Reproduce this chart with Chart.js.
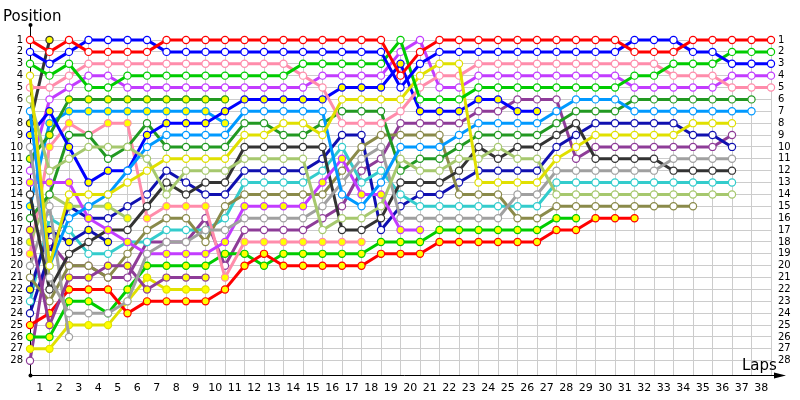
<!DOCTYPE html>
<html>
<head>
<meta charset="utf-8">
<script src="https://cdn.jsdelivr.net/npm/chart.js@4.4.1/dist/chart.umd.min.js"></script>
<style>
  html, body { margin: 0; padding: 0; background: #fff; }
  #wrap { width: 800px; height: 400px; }
</style>
</head>
<body>
<div id="wrap"><canvas id="lapChart" width="800" height="400"></canvas></div>
<script>
// lap numbers shown under the axis
const lapLabels = Array.from({ length: 38 }, (_, i) => String(i + 1));

// position of each car per lap (index = lap, 0 = grid)
const redW      = [1,2,1,2,2,2,2,1,1,1,1,1,1,1,1,1,1,1,1,4,2,1,1,1,1,1,1,1,1,1,1,2,2,2,1,1,1,1,1];
const blueW     = [2,3,2,1,1,1,1,2,2,2,2,2,2,2,2,2,2,2,2,5,3,2,2,2,2,2,2,2,2,2,2,1,1,1,2,2,3,3,3];
const greenW    = [3,4,3,5,5,4,4,4,4,4,4,4,4,4,3,3,3,3,3,1,6,6,6,5,5,5,5,5,5,5,5,4,4,3,3,3,2,2,2];
const yellowW   = [4,20,14,14,14,13,12,11,11,11,11,9,9,8,8,9,6,6,6,6,4,3,3,13,13,13,13,11,10,9,9,9,9,9,8,8,8];
const pinkW     = [5,5,4,3,3,3,3,3,3,3,3,3,3,3,4,5,8,8,8,7,5,4,4,3,3,3,3,3,3,3,3,3,3,4,4,4,5,5,5];
const ltGreenW  = [6,12,11,10,10,10,11,14,12,12,12,11,11,11,11,17,16,16,15,11,12,12,11,11,10,11,11,14,14,14,14,14,14,14,14,14,14];
const ltBlueW   = [7,20,16,15,14,12,10,9,9,9,9,7,7,7,7,7,14,15,13,10,10,10,9,8,8,8,8,7,6,6,6,7,7,7,7,7,7,7];
const dkGrayY   = [8,1];
const blueY     = [9,7,10,13,12,12,9,8,8,8,7,6,6,6,6,6,5,5,5,3,7,7,7,6,6,7,7];
const grayW     = [10,21,24,24,24,23,19,18,18,17,17,16,16,16,16,15,13,11,10,16,16,16,16,16,16,14,14,12,12,12,12,12,12,11,11,11,11];
const dkGreenY  = [11,9,6,6,6,6,6,6,6,6,6];
const violetW   = [12,6,5,4,4,5,5,5,5,5,5,5,5,5,5,4,4,4,4,2,1,5,5,4,4,4,4,4,4,4,4,5,5,5,5,5,4,4,4];
const violetY   = [13,13,13,16,17,18,19,19,19,19,18,15,15,15,15,13,11,14,14,17,17];
const dkGrayW   = [14,22,19,18,17,17,15,13,14,13,13,10,10,10,10,10,17,17,16,13,13,13,12,10,11,10,10,9,8,11,11,11,11,12,12,12,12];
const ltBlueY   = [15,8,7,7,7,7,7,7,7,7,8];
const dkGreenW  = [16,14,9,9,11,10,8,10,10,10,10,8,8,9,9,8,7,7,7,12,11,11,10,9,9,9,9,8,7,7,7,6,6,6,6,6,6,6];
const purpleY   = [17,25,21,21,20,20,22,21,21,21];
const ltGreenY  = [18,14,15,15,15,16];
const pinkY     = [19,10,8,9,8,8,16,15,15,15,21,18,18,18,18,18,18,18];
const grayY     = [20,15,26];
const oliveW    = [21,23,20,20,21,19,17,16,16,18,15,14,14,14,14,14,12,10,9,9,9,9,14,14,14,16,16,15,15,15,15,15,15,15,15];
const navyY     = [22,17,18,17,18];
const cyanW     = [23,16,17,19,19,18,18,17,17,17,16,13,13,13,13,12,10,13,12,14,15,15,15,15,15,15,15,13,13,13,13,13,13,13,13,13,13];
const navyW     = [24,19,15,16,16,15,14,12,13,14,14,12,12,12,12,11,9,9,17,15,14,14,13,12,12,12,12,10,9,8,8,8,8,8,9,9,10];
const redY      = [25,24,22,22,22,24,23,23,23,23,22,20,19,20,20,20,20,20,19,19,19,18,18,18,18,18,18,17,17,16,16,16];
const greenY    = [26,26,23,23,24,22,20,20,20,20,19,19,20,19,19,19,19,19,18,18,18,17,17,17,17,17,17,16,16];
const yellowY   = [27,27,25,25,25,23,21,22,22,22];
const purpleW   = [28,18,20,20,21,21,18,18,18,16,20,17,17,17,17,16,15,12,11,8,8,8,8,7,7,6,6,6,11,10,10,10,10,10,10,10,9];

const W = '#ffffff', Y = '#ffff00';
const cars = [
    [redW, '#ff0000', W], [blueW, '#0000ff', W], [greenW, '#00cc00', W], [yellowW, '#e0e000', W],
    [pinkW, '#ff8cab', W], [ltGreenW, '#a6c86e', W], [ltBlueW, '#0099ff', W], [dkGrayY, '#333333', Y],
    [blueY, '#0000ff', Y], [grayW, '#a0a0a0', W], [dkGreenY, '#229922', Y], [violetW, '#c23cff', W],
    [violetY, '#c23cff', Y], [dkGrayW, '#333333', W], [ltBlueY, '#0099ff', Y], [dkGreenW, '#229922', W],
    [purpleY, '#8e3c98', Y], [ltGreenY, '#a6c86e', Y], [pinkY, '#ff8cab', Y], [grayY, '#a0a0a0', W],
    [oliveW, '#8a8a4a', W], [navyY, '#1010b0', Y], [cyanW, '#33cccc', W], [navyW, '#1010b0', W],
    [redY, '#ff0000', Y], [greenY, '#00cc00', Y], [yellowY, '#e0e000', Y], [purpleW, '#8e3c98', W]
];

const datasets = cars.map(([laps, col, fill], i) => ({
    label: 'car ' + (i + 1),
    data: laps.map((p, lap) => ({ x: lap, y: p })),
    borderColor: col,
    backgroundColor: col,
    borderWidth: 3,
    pointRadius: 3.6,
    pointBorderWidth: 1.2,
    pointBorderColor: col,
    pointBackgroundColor: fill,
    tension: 0,
    clip: false
}));

const tickFont = { family: 'DejaVu Sans', size: 10 };

// black axis lines with arrows, drawn under the series
const axisLines = {
    id: 'axisLines',
    beforeDatasetsDraw(chart) {
        const { ctx, chartArea: a } = chart;
        const x0 = Math.round(a.left) + 0.5, y0 = Math.round(a.bottom) + 0.5;
        ctx.save();
        ctx.strokeStyle = '#000';
        ctx.fillStyle = '#000';
        ctx.lineWidth = 1;
        ctx.beginPath();
        ctx.moveTo(x0, y0);
        ctx.lineTo(x0, 26);
        ctx.moveTo(x0, y0);
        ctx.lineTo(778, y0);
        ctx.stroke();
        ctx.beginPath();
        ctx.arc(x0, 25, 2, 0, Math.PI * 2);
        ctx.fill();
        ctx.beginPath();
        ctx.moveTo(786, y0); ctx.lineTo(774, y0 - 3); ctx.lineTo(774, y0 + 3);
        ctx.fill();
        ctx.beginPath();
        ctx.arc(x0, y0, 2, 0, Math.PI * 2);
        ctx.fill();
        ctx.restore();
    },
    afterDraw(chart) {
        const ctx = chart.ctx;
        ctx.save();
        ctx.fillStyle = '#000';
        ctx.font = '15px "DejaVu Sans"';
        ctx.textBaseline = 'alphabetic';
        ctx.fillText('Position', 3, 21);
        ctx.fillText('Laps', 742, 370);
        ctx.restore();
    }
};

const yTicks = {
    stepSize: 1,
    maxTicksLimit: 100,
    autoSkip: false,
    padding: 7,
    color: '#000',
    font: tickFont,
    callback: v => (Number.isInteger(v) && v >= 1 && v <= 28) ? v : ''
};

new Chart(document.getElementById('lapChart'), {
    type: 'line',
    data: { datasets },
    options: {
        responsive: false,
        animation: false,
        layout: { padding: { top: 40, left: 0, right: 0, bottom: 0 } },
        plugins: { legend: { display: false }, tooltip: { enabled: false } },
        scales: {
            x: {
                type: 'linear', min: 0, max: 38, position: 'bottom',
                ticks: { display: false, stepSize: 1, maxTicksLimit: 100 },
                grid: { color: '#cccccc', drawTicks: false },
                border: { display: false },
                afterFit: s => { s.height = 0; }
            },
            lapAxis: {
                type: 'category', labels: lapLabels, offset: true, position: 'bottom',
                grid: { display: false, drawTicks: false },
                border: { display: false },
                ticks: { autoSkip: false, maxRotation: 0, padding: 7, color: '#000', font: { family: 'DejaVu Sans', size: 11 } },
                afterFit: s => { s.height = 25; }
            },
            y: {
                type: 'linear', reverse: true, min: 1, max: 29.2, position: 'left',
                ticks: yTicks,
                grid: { drawTicks: false, color: c => (c.tick && c.tick.value <= 28) ? '#cccccc' : 'rgba(0,0,0,0)' },
                border: { display: false },
                afterFit: s => { s.width = 30; }
            },
            yRight: {
                type: 'linear', reverse: true, min: 1, max: 29.2, position: 'right',
                ticks: yTicks,
                grid: { display: false, drawTicks: false },
                border: { display: false },
                afterFit: s => { s.width = 29; }
            }
        }
    },
    plugins: [axisLines]
});
</script>
</body>
</html>
